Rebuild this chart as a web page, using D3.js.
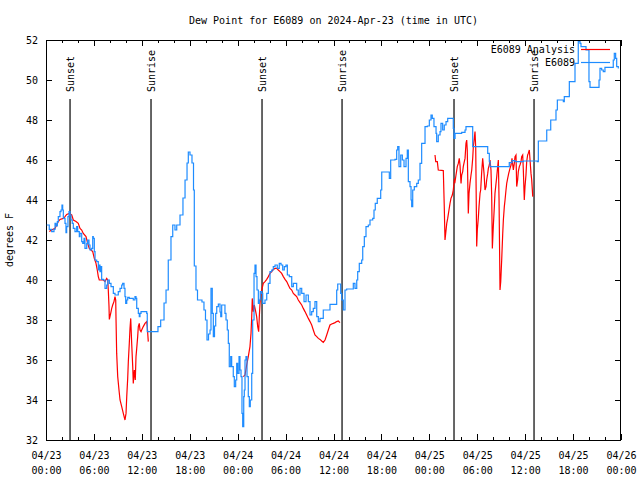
<!DOCTYPE html>
<html>
<head>
<meta charset="utf-8">
<script src="https://cdn.jsdelivr.net/npm/d3@7"></script>
<style>
  html, body { margin: 0; padding: 0; background: #fff; }
  svg { display: block; }
  text { font-family: "DejaVu Sans Mono", "Liberation Mono", monospace; font-size: 10px; fill: #000; }
</style>
</head>
<body>
<svg id="chart" width="640" height="480"></svg>
<script>
// ---------- DATA ----------
const chartTitle = "Dew Point for E6089 on 2024-Apr-23 (time in UTC)";
const yAxisLabel = "degrees F";
const startDateUTC = [2024, 3, 23];           // 04/23 00:00 UTC
const spanHours = 72;
const yTickValues = [32, 34, 36, 38, 40, 42, 44, 46, 48, 50, 52];
const seriesNames = ["E6089 Analysis", "E6089"];

// observed E6089 (hours since start, degrees F)
const observedHours = [0.09,0.41,0.71,1.00,1.13,1.25,1.42,1.54,1.75,1.88,2.00,2.09,2.17,2.38,2.50,2.59,2.75,2.88,3.01,3.13,3.29,3.42,3.63,3.84,3.97,4.17,4.26,4.47,4.60,4.76,4.88,5.10,5.22,5.38,5.51,5.72,5.85,5.92,6.05,6.14,6.35,6.55,6.67,6.76,6.89,6.97,7.18,7.39,7.60,7.73,7.93,8.14,8.43,8.64,8.93,9.05,9.27,9.48,9.60,9.77,9.89,9.98,10.11,10.23,10.43,10.73,10.93,11.14,11.27,11.36,11.56,11.68,11.77,11.90,12.40,12.61,12.68,13.65,14.02,14.36,14.78,15.03,15.31,15.65,15.87,16.15,16.37,16.78,17.15,17.41,17.66,17.82,18.03,18.28,18.47,18.57,18.78,18.97,19.53,19.78,19.97,20.16,20.35,20.54,20.66,20.82,20.95,21.10,21.25,21.38,21.58,21.79,21.88,22.00,22.29,22.41,22.54,22.70,22.83,22.95,23.13,23.25,23.45,23.58,23.75,23.88,24.00,24.17,24.29,24.42,24.54,24.63,24.76,24.83,24.92,25.04,25.17,25.33,25.46,25.58,25.76,25.88,26.05,26.17,26.30,26.42,26.59,26.71,26.83,27.01,27.14,27.42,27.64,27.84,28.05,28.26,28.46,28.68,28.96,29.21,29.43,29.64,29.84,30.05,30.22,30.47,30.77,30.97,31.18,31.39,31.59,31.81,32.02,32.31,32.56,32.85,33.06,33.27,33.47,33.68,33.90,34.10,34.31,34.72,35.22,35.56,36.19,36.40,36.53,36.73,36.90,37.03,37.23,37.44,37.65,38.28,38.48,38.69,38.91,39.03,39.23,39.53,39.66,39.86,40.07,40.36,40.57,40.91,41.07,41.23,41.48,41.74,41.91,42.04,42.74,42.99,43.16,43.70,43.91,44.04,44.20,44.42,44.62,44.83,45.08,45.24,45.37,45.58,45.71,45.79,45.92,46.12,46.42,46.62,46.83,47.04,47.46,47.75,48.00,48.21,48.37,48.58,48.84,48.92,49.12,49.34,49.46,49.67,49.87,50.09,50.30,50.80,51.00,51.09,51.22,52.05,52.47,52.59,53.31,53.43,54.35,55.18,55.31,55.51,55.60,57.89,58.01,58.35,58.73,59.77,61.52,61.65,62.61,62.70,63.11,63.20,63.74,63.86,64.03,64.65,64.78,64.90,65.40,65.53,66.12,66.24,66.53,66.65,66.87,66.99,67.49,67.62,67.83,67.99,68.12,69.16,69.25,69.37,69.58,69.78,69.99,70.83,71.03,71.16,71.33,71.46,71.66];
const observedValues = [42.75,42.53,42.42,42.53,42.83,42.7,42.92,43.17,43.42,43.5,43.75,43.5,43.08,42.83,42.37,42.67,43.17,43.42,43.25,43.0,42.83,42.58,42.42,42.67,42.42,42.17,42.33,41.92,41.83,42.08,41.58,41.83,42.0,41.75,41.5,41.58,42.17,42.08,41.42,41.0,40.92,40.5,40.75,40.42,40.67,40.03,40.0,39.58,39.75,40.0,39.83,39.67,39.33,39.25,39.25,39.42,39.58,39.75,39.83,39.58,39.17,38.83,39.0,39.13,39.08,39.08,39.0,39.17,39.08,38.58,38.33,38.17,38.33,38.42,38.42,38.33,37.42,37.42,37.67,38.0,38.85,39.5,41.0,42.17,42.75,42.5,42.75,43.25,44.1,45.0,45.85,46.4,46.25,45.85,44.5,40.7,39.5,39.0,38.9,38.5,38.0,37.0,37.3,37.5,39.58,38.33,37.17,37.7,38.33,38.67,38.8,38.4,38.17,38.75,38.75,38.33,38.0,37.5,36.83,35.67,36.17,35.67,35.17,34.67,35.0,35.83,35.33,36.17,35.5,35.17,33.33,32.67,34.17,34.5,36.0,36.17,35.17,34.17,33.67,34.0,35.33,38.0,40.33,40.75,40.17,39.5,38.83,39.0,39.42,39.33,38.83,39.0,39.33,39.83,40.42,40.5,40.67,40.75,40.58,40.83,40.75,40.5,40.67,40.75,40.25,40.17,39.67,39.83,39.83,39.5,39.25,39.58,39.33,38.92,39.25,38.92,38.25,38.42,38.58,38.92,38.17,37.92,38.08,38.5,38.5,38.78,38.78,39.5,39.8,39.8,39.33,39.0,38.5,39.5,39.55,39.55,39.83,39.58,40.0,40.42,40.83,41.0,41.67,42.17,42.67,42.75,43.0,43.08,43.5,43.83,44.08,44.08,44.5,45.4,45.4,45.08,46.0,46.03,46.5,46.67,45.67,46.25,46.0,45.67,46.08,46.5,44.92,44.67,44.0,43.67,44.5,44.67,44.83,45.0,45.83,46.83,47.67,47.7,48.0,48.25,48.08,47.67,47.33,46.92,47.25,47.42,47.83,47.5,47.75,47.92,48.08,48.08,47.58,47.08,47.33,47.38,47.5,47.67,47.67,46.67,46.67,46.67,46.33,45.92,45.67,45.67,45.87,45.97,45.92,45.95,45.92,46.95,46.95,47.5,47.5,48.0,48.0,48.5,49.0,49.0,48.92,49.17,49.17,49.92,49.92,50.83,50.83,51.92,51.83,51.67,51.67,51.5,51.5,49.92,49.63,49.63,50.0,50.58,50.5,50.42,50.63,50.63,51.0,51.33,51.08,50.67,50.58];

// analysis E6089 (null = gap)
const analysisHours = [0.41,0.71,1.13,1.34,1.54,1.75,2.17,2.38,2.59,2.92,3.22,3.42,3.76,4.04,4.26,4.47,4.67,5.01,5.22,5.42,5.63,5.85,6.05,6.26,6.42,6.55,6.67,7.18,7.39,7.60,7.73,7.80,7.89,7.93,8.10,8.23,8.35,8.51,8.64,8.73,8.77,8.85,8.98,9.14,9.27,9.48,9.68,9.89,10.02,10.11,10.23,10.31,10.43,10.52,10.61,10.73,10.86,10.93,11.06,11.18,11.27,11.36,11.48,11.56,11.68,11.77,11.90,11.98,12.18,12.40,12.61,12.68,12.81,
  18.0,
  24.71,24.92,25.13,25.33,25.54,25.67,25.76,25.83,25.96,26.08,26.26,26.38,26.51,26.63,26.71,26.80,26.92,27.01,27.21,27.42,27.64,27.84,28.05,28.26,28.46,28.68,28.89,29.09,29.30,29.51,29.72,29.93,30.14,30.34,30.55,30.77,30.97,31.18,31.39,31.59,31.81,32.02,32.22,32.43,32.64,32.85,33.06,33.27,33.47,33.68,33.90,34.10,34.31,34.52,34.72,34.94,35.15,35.35,35.56,35.77,35.98,36.19,36.40,36.60,36.81,
  42.0,
  48.71,48.80,49.00,49.12,49.75,49.87,49.96,50.05,50.18,50.30,50.46,50.59,50.71,50.88,51.00,51.13,51.22,51.34,51.50,51.63,51.75,51.84,51.97,52.05,52.18,52.25,52.38,52.47,52.59,52.68,52.75,52.88,52.97,53.09,53.22,53.31,53.43,53.51,53.63,53.72,53.81,53.93,54.01,54.13,54.22,54.35,54.43,54.56,54.68,54.85,54.97,55.10,55.18,55.31,55.39,55.51,55.60,55.72,55.81,55.89,56.01,56.14,56.22,56.35,56.44,56.56,56.64,56.73,56.85,56.94,57.06,57.19,57.27,57.39,57.48,57.60,57.69,57.81,57.94,58.10,58.23,58.35,58.52,58.64,58.73,58.85,58.94,59.06,59.14,59.27,59.35,59.48,59.56,59.69,59.77,59.89,59.98,60.10,60.19,60.31,60.39,60.52,60.61,60.73,60.82,60.95];
const analysisValues = [42.42,42.5,42.58,42.75,42.92,43.03,43.08,43.17,43.28,43.33,43.25,43.0,42.92,42.83,42.58,42.5,42.33,42.17,41.83,41.58,41.5,41.42,41.08,40.83,40.5,40.17,40.0,40.0,39.92,40.08,40.0,39.5,38.67,38.03,38.33,38.58,38.75,38.92,39.17,39.0,38.0,36.33,35.17,34.5,34.0,33.67,33.33,33.0,33.33,34.17,35.08,35.92,36.83,37.58,38.08,36.83,35.67,34.83,35.5,35.0,36.17,36.58,37.17,37.67,37.83,37.5,37.42,37.5,37.67,37.83,37.92,37.67,36.92,
  null,
  35.17,35.25,35.75,36.17,36.67,37.33,38.17,39.08,38.42,38.75,38.42,38.17,37.67,37.42,38.17,38.83,39.33,39.5,39.83,39.92,40.03,40.17,40.33,40.42,40.53,40.58,40.58,40.5,40.42,40.33,40.17,40.03,39.92,39.75,39.58,39.5,39.33,39.25,39.17,39.0,38.87,38.75,38.58,38.42,38.25,38.08,37.92,37.75,37.5,37.25,37.17,37.08,37.03,36.95,36.88,37.0,37.25,37.5,37.75,37.8,37.83,37.87,37.92,37.95,37.87,
  null,
  46.25,45.92,45.92,45.5,45.47,43.67,42.0,42.33,42.83,43.08,43.5,43.83,44.08,44.25,44.5,45.0,44.92,45.25,45.67,45.83,46.08,45.75,44.83,45.25,45.42,45.67,45.92,46.08,46.83,47.0,46.5,43.33,44.33,44.83,45.25,45.5,46.08,46.67,47.08,47.42,46.58,41.67,42.5,43.08,43.67,44.33,44.5,45.42,46.08,45.33,44.5,44.67,45.0,45.33,45.58,45.75,46.0,45.5,44.17,41.58,42.67,43.67,44.33,44.83,45.17,45.67,46.0,44.0,39.5,39.92,41.0,42.33,43.0,43.67,44.0,44.5,44.83,45.08,45.33,45.58,45.75,46.08,45.5,45.83,46.17,46.25,44.67,45.0,45.42,45.67,45.75,45.92,46.17,46.25,45.5,44.0,44.67,45.25,45.92,46.25,46.33,46.5,46.0,45.33,45.0,44.17];

// sun events (hours since start)
const sunsetHours = [3.01, 27.05, 51.09];
const sunriseHours = [13.15, 37.07, 61.11];

// ---------- CHART ----------
const svg = d3.select("#chart");
const t0 = Date.UTC(...startDateUTC);
const toDate = h => new Date(t0 + h * 3600e3);

const x = d3.scaleUtc().domain([toDate(0), toDate(spanHours)]).range([46, 621]);
const y = d3.scaleLinear().domain([32, 52]).range([440, 40]);

const colors = { analysis: "#ff0000", observed: "#1e8cff" };

// title
svg.append("text").attr("x", 333.5).attr("y", 24).attr("text-anchor", "middle").text(chartTitle);

// y label
svg.append("text").attr("transform", "translate(13,240) rotate(-90)")
  .attr("text-anchor", "middle").text(yAxisLabel);

// axes
const ax = svg.append("g");
const yLeft = d3.axisLeft(y).tickValues(yTickValues).tickSize(-6).tickPadding(8).tickFormat(d3.format("d"));
ax.append("g").attr("transform", "translate(46,0)").call(yLeft);
const yRight = d3.axisRight(y).tickValues(yTickValues).tickSize(-6).tickFormat("");
ax.append("g").attr("transform", "translate(621,0)").call(yRight);

const minorTicks = d3.utcHour.every(2);
const majorTicks = d3.utcHour.every(6);
ax.append("g").attr("transform", "translate(0,440)").call(d3.axisBottom(x).ticks(minorTicks).tickSize(-3).tickFormat(""));
ax.append("g").attr("transform", "translate(0,40)").call(d3.axisTop(x).ticks(minorTicks).tickSize(-3).tickFormat(""));
ax.append("g").attr("transform", "translate(0,40)").call(d3.axisTop(x).ticks(majorTicks).tickSize(-6).tickFormat(""));
const bottomMajor = ax.append("g").attr("transform", "translate(0,440)")
  .call(d3.axisBottom(x).ticks(majorTicks).tickSize(-6).tickFormat(""));
const fmtDate = d3.utcFormat("%m/%d"), fmtTime = d3.utcFormat("%H:%M");
bottomMajor.selectAll(".tick").each(function(d) {
  const g = d3.select(this);
  g.select("text").remove();
  const t = g.append("text").attr("text-anchor", "middle").attr("fill", "#000");
  t.append("tspan").attr("x", 0).attr("y", 19).text(fmtDate(d));
  t.append("tspan").attr("x", 0).attr("y", 34).text(fmtTime(d));
});
ax.selectAll(".domain").remove();
ax.selectAll(".tick line").attr("stroke", "#000").attr("shape-rendering", "crispEdges");
ax.selectAll("text").attr("font-family", "DejaVu Sans Mono, monospace").attr("font-size", 10);

// border
svg.append("rect").attr("x", 46.5).attr("y", 40.5)
  .attr("width", x.range()[1] - x.range()[0] - 1).attr("height", y(32) - y(52))
  .attr("fill", "none").attr("stroke", "#000").attr("stroke-width", 1).attr("shape-rendering", "crispEdges");

// sun lines
const sunEvents = sunsetHours.map(h => ({ h, label: "Sunset" }))
  .concat(sunriseHours.map(h => ({ h, label: "Sunrise" })));
sunEvents.forEach(e => {
  const px = x(toDate(e.h));
  svg.append("line").attr("x1", px).attr("x2", px).attr("y1", 99).attr("y2", y(32))
    .attr("stroke", "#000").attr("stroke-width", 1.2);
  svg.append("text").attr("transform", `translate(${px},92) rotate(-90)`)
    .attr("dy", "0.35em").text(e.label);
});

// series
const observed = observedHours.map((h, i) => [h, observedValues[i]]);
const analysis = analysisHours.map((h, i) => [h, analysisValues[i]]);

const lineStep = d3.line().defined(d => d[1] != null)
  .x(d => x(toDate(d[0]))).y(d => y(d[1])).curve(d3.curveStepAfter);
const lineLin = d3.line().defined(d => d[1] != null)
  .x(d => x(toDate(d[0]))).y(d => y(d[1]));

svg.append("path").datum(analysis).attr("d", lineLin)
  .attr("fill", "none").attr("stroke", colors.analysis).attr("stroke-width", 1.2);
svg.append("path").datum(observed).attr("d", lineStep)
  .attr("fill", "none").attr("stroke", colors.observed).attr("stroke-width", 1.2);

// legend
const legend = [
  { name: seriesNames[0], color: colors.analysis, y: 49.5 },
  { name: seriesNames[1], color: colors.observed, y: 62.5 }
];
legend.forEach(l => {
  svg.append("text").attr("x", 575).attr("y", l.y).attr("dy", "0.35em")
    .attr("text-anchor", "end").text(l.name);
  svg.append("line").attr("x1", 581).attr("x2", 610).attr("y1", l.y).attr("y2", l.y)
    .attr("stroke", l.color).attr("stroke-width", 1.2);
});
</script>
</body>
</html>
